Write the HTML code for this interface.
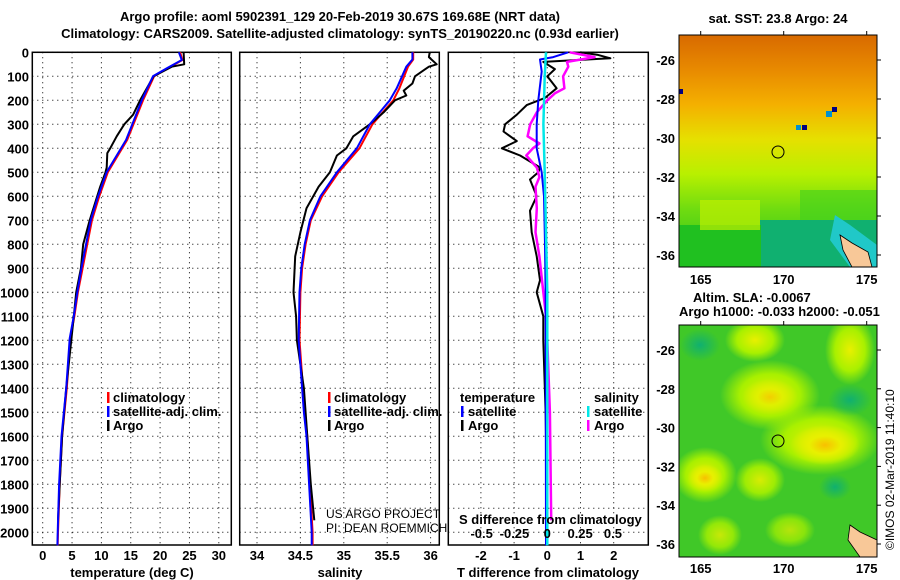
<!DOCTYPE html>
<html><head><meta charset="utf-8"><style>
body{margin:0;background:#fff;width:900px;height:580px;overflow:hidden}
svg{display:block}
text{font-family:"Liberation Sans",sans-serif;font-weight:bold;font-size:13px;fill:#000}
</style></head><body>
<svg id="c" width="900" height="580" viewBox="0 0 900 580">
<defs>
<linearGradient id="sstg" x1="0" y1="0" x2="0" y2="1">
<stop offset="0" stop-color="#d86a00"/><stop offset="0.15" stop-color="#e88a00"/><stop offset="0.3" stop-color="#f4b000"/>
<stop offset="0.45" stop-color="#e6e000"/><stop offset="0.6" stop-color="#b8f000"/><stop offset="0.75" stop-color="#70dc10"/><stop offset="1" stop-color="#20c020"/>
</linearGradient>
<radialGradient id="yb"><stop offset="0" stop-color="#f8c000"/><stop offset="0.45" stop-color="#e8f000"/><stop offset="1" stop-color="#e8f000" stop-opacity="0"/></radialGradient>
<radialGradient id="yl"><stop offset="0" stop-color="#e8f000"/><stop offset="0.6" stop-color="#a8f000"/><stop offset="1" stop-color="#a8f000" stop-opacity="0"/></radialGradient>
<radialGradient id="tb"><stop offset="0" stop-color="#10b070"/><stop offset="1" stop-color="#10b070" stop-opacity="0"/></radialGradient>
<clipPath id="m1"><rect x="679" y="35" width="198" height="232"/></clipPath>
<clipPath id="m2"><rect x="679" y="325" width="198" height="232"/></clipPath>
</defs>
<g id="titles">
<text x="340" y="21" text-anchor="middle">Argo profile: aoml 5902391_129 20-Feb-2019 30.67S 169.68E (NRT data)</text>
<text x="340" y="38" text-anchor="middle">Climatology: CARS2009. Satellite-adjusted climatology: synTS_20190220.nc (0.93d earlier)</text>
</g>
<g id="panels"></g>
<g id="maps">
<g clip-path="url(#m1)">
<rect x="679" y="35" width="198" height="232" fill="url(#sstg)"/>
<rect x="760" y="220" width="117" height="47" fill="#10b070"/>
<rect x="679" y="225" width="82" height="42" fill="#20c020"/>
<rect x="700" y="200" width="60" height="30" fill="#c0f000" opacity="0.7"/>
<rect x="800" y="190" width="77" height="30" fill="#40d020" opacity="0.6"/>
<polygon points="835,215 850,225 877,245 877,267 850,267 830,240" fill="#20c8c8"/>
<polygon points="840,235 852,243 868,252 872,267 852,267 843,250" fill="#f8c898" stroke="#000" stroke-width="0.8"/>
<rect x="832" y="107" width="5" height="5" fill="#000080"/><rect x="826" y="111" width="6" height="6" fill="#0090d0"/>
<rect x="802" y="125" width="5" height="5" fill="#000080"/><rect x="796" y="125" width="5" height="5" fill="#0090d0"/>
<rect x="679" y="89" width="4" height="5" fill="#000080"/>
</g>
<rect x="679" y="35" width="198" height="232" fill="none" stroke="#000"/>
<circle cx="778" cy="152" r="6" fill="none" stroke="#000"/>
<text x="778" y="23" text-anchor="middle">sat. SST: 23.8 Argo: 24</text>
<g clip-path="url(#m2)">
<rect x="679" y="325" width="198" height="232" fill="#40c828"/>
<ellipse cx="755" cy="340" rx="30" ry="22" fill="url(#yl)"/>
<ellipse cx="770" cy="395" rx="50" ry="35" fill="url(#yl)"/>
<ellipse cx="770" cy="397" rx="28" ry="18" fill="url(#yb)" opacity="0.7"/>
<ellipse cx="850" cy="350" rx="25" ry="35" fill="url(#yl)"/>
<ellipse cx="820" cy="440" rx="60" ry="35" fill="url(#yl)"/>
<ellipse cx="825" cy="445" rx="35" ry="20" fill="url(#yb)"/>
<ellipse cx="705" cy="475" rx="32" ry="28" fill="url(#yl)"/>
<ellipse cx="705" cy="478" rx="18" ry="14" fill="url(#yb)"/>
<ellipse cx="760" cy="480" rx="25" ry="22" fill="url(#yl)" opacity="0.9"/>
<ellipse cx="700" cy="345" rx="20" ry="16" fill="url(#tb)"/>
<ellipse cx="850" cy="400" rx="22" ry="16" fill="url(#tb)"/>
<ellipse cx="835" cy="487" rx="16" ry="13" fill="url(#tb)"/>
<ellipse cx="720" cy="535" rx="22" ry="20" fill="url(#yl)" opacity="0.8"/>
<ellipse cx="790" cy="530" rx="25" ry="18" fill="url(#yl)" opacity="0.7"/>
<polygon points="850,525 860,532 877,540 877,557 860,557 848,540" fill="#f8c898" stroke="#000" stroke-width="0.8"/>
</g>
<rect x="679" y="325" width="198" height="232" fill="none" stroke="#000"/>
<circle cx="778" cy="441" r="6" fill="none" stroke="#000"/>
<text x="693" y="302">Altim. SLA: -0.0067</text>
<text x="679" y="316">Argo h1000: -0.033 h2000: -0.051</text>
<text transform="translate(894,550) rotate(-90)" style="font-weight:normal;font-size:12px">©IMOS 02-Mar-2019 11:40:10</text>
</g>
</svg>
<script>
// ---- data ----
const tClimDepth=[0,32,67,99,199,365,499,602,699,799,900,1000,1099,1192,1400,1600,1800,2000,2054];
const tClim=[23.4,23.8,21.3,19.0,17.1,14.4,11.1,9.6,8.4,7.6,6.8,6.0,5.4,4.7,4.1,3.3,2.9,2.6,2.55];
const tSat=[23.2,23.7,21.1,18.8,16.9,14.2,10.9,9.4,8.2,7.4,6.6,5.9,5.3,4.6,4.0,3.2,2.8,2.55,2.5];
const tArgoDepth=[0,50,60,100,200,260,300,350,400,420,480,500,560,700,800,900,1000,1100,1400,1600,1800,1950];
const tArgo=[24.0,24.1,22.0,18.9,16.6,15.4,13.9,12.6,11.5,11.0,10.9,10.7,9.8,8.0,6.9,6.5,5.7,5.3,4.0,3.3,2.9,2.6];
const sClimDepth=[0,30,60,150,200,300,400,500,600,700,800,900,1000,1200,1400,1500,1600,1800,2000,2054];
const sClim=[35.80,35.80,35.74,35.64,35.57,35.33,35.18,34.94,34.75,34.62,34.56,34.52,34.50,34.49,34.53,34.55,34.58,34.61,34.64,34.64];
const sSat=[35.79,35.79,35.72,35.61,35.53,35.30,35.15,34.92,34.73,34.61,34.55,34.51,34.49,34.48,34.52,34.54,34.57,34.60,34.63,34.63];
const sArgoDepth=[0,20,50,60,70,100,130,160,180,200,250,300,350,400,430,500,560,650,750,850,1000,1100,1200,1400,1600,1800,1950];
const sArgo=[35.99,35.98,36.07,35.98,35.94,35.82,35.79,35.69,35.72,35.59,35.46,35.30,35.11,35.03,34.92,34.84,34.71,34.57,34.50,34.44,34.42,34.45,34.46,34.54,34.58,34.62,34.66];
const dTArgoDepth=[0,10,25,40,70,100,150,190,220,260,300,330,370,400,430,480,500,530,600,660,750,850,950,1000,1100,1200,1500,1950];
const dTArgo=[0.99,1.5,1.9,-0.12,0.23,0,0.28,-0.07,-0.62,-0.92,-1.27,-1.32,-0.92,-1.37,-0.82,-0.22,-0.27,-0.52,-0.32,-0.52,-0.47,-0.32,-0.22,-0.32,-0.12,-0.12,-0.05,0];
const dTSatDepth=[0,20,30,80,200,300,400,500,600,800,1000,2054];
const dTSat=[0.63,0.18,-0.22,-0.17,-0.27,-0.32,-0.32,-0.17,-0.1,-0.07,-0.05,-0.04];
const dSSatDepth=[0,100,300,500,1000,2054];
const dSSat=[-0.01,-0.02,-0.03,-0.02,0,0];
const dSArgoDepth=[0,20,40,60,100,150,170,200,250,300,350,380,400,430,480,520,560,650,750,850,950,1100,1200,1500,1950];
const dSArgo=[0.17,0.36,0.15,0.16,0.12,0.13,0.06,0,-0.08,-0.13,-0.15,-0.06,-0.11,-0.16,-0.08,-0.06,-0.09,-0.08,-0.09,-0.06,-0.04,-0.01,0,0.02,0.03];
const depthTicks=[0,100,200,300,400,500,600,700,800,900,1000,1100,1200,1300,1400,1500,1600,1700,1800,1900,2000];
const tTicks=[0,5,10,15,20,25,30];
const sTicks=[34,34.5,35,35.5,36];
const sTickLabels=["34","34.5","35","35.5","36"];
const dTTicks=[-2,-1,0,1,2];
const dSTicks=[-0.5,-0.25,0,0.25,0.5];
const dSTickLabels=["-0.5","-0.25","0","0.25","0.5"];
const latTicks=[-26,-28,-30,-32,-34,-36];
const lonTicks=[165,170,175];

// ---- scales ----
const NS="http://www.w3.org/2000/svg";
const y=d=>52.3+d*0.24;
const xT=t=>42.7+t*5.87;
const xS=s=>257+(s-34)*86.8;
const xDT=v=>547.3+v*33.2;
const xDS=v=>547.3+v*131.3;
const latY1=l=>60+(-26-l)*19.5;
const latY2=l=>350+(-26-l)*19.4;
const lonX=l=>700.7+(l-165)*16.6;
const root=document.getElementById('panels');
function mk(tag,at,parent){const e=document.createElementNS(NS,tag);for(const k in at)e.setAttribute(k,at[k]);(parent||root).appendChild(e);return e;}
function line(xf,vals,depths,color,w,name){
  const p=mk('polyline',{points:vals.map((v,i)=>xf(v).toFixed(1)+','+y(depths[i]).toFixed(1)).join(' '),fill:'none',stroke:color,'stroke-width':w,'stroke-linejoin':'round'});
  
  
}
function txt(x,yy,s,name,anchor,style){const t=mk('text',{x:x,y:yy});if(anchor)t.setAttribute('text-anchor',anchor);if(style)t.setAttribute('style',style);t.textContent=s;
  
  
  return t;}
function frame(x0,x1,name){
  const r=mk('rect',{x:x0,y:52.3,width:x1-x0,height:492.7,fill:'none',stroke:'#000','stroke-width':1.5});
  
  
  depthTicks.forEach(d=>mk('line',{x1:x0,x2:x1,y1:y(d),y2:y(d),stroke:'#000','stroke-dasharray':'1,4'}));
}
function vgrid(xs,name){xs.forEach(x=>mk('line',{x1:x,x2:x,y1:52.3,y2:545,stroke:'#000','stroke-dasharray':'1,4'}));}
function legMark(x,yy,c){mk('rect',{x:x,y:yy-10,width:2.5,height:11,fill:c});}

// panel 1
frame(32.3,231.3,'temperature-panel');
vgrid(tTicks.map(xT));
depthTicks.forEach(d=>txt(29,y(d)+5,String(d),'depth-tick-label','end'));
tTicks.forEach(t=>txt(xT(t),560,String(t),'temperature-tick-label','middle'));
txt(132,577,'temperature (deg C)','temperature-axis-title','middle');
line(xT,tClim,tClimDepth,'#ff0000',2,'temperature-climatology-line');
line(xT,tArgo,tArgoDepth,'#000',2,'temperature-argo-line');
line(xT,tSat,tClimDepth,'#0000ff',2,'temperature-satellite-line');
legMark(107,402,'#f00');txt(113,402,'climatology','legend-climatology');
legMark(107,416,'#00f');txt(113,416,'satellite-adj. clim.','legend-satellite');
legMark(107,430,'#000');txt(113,430,'Argo','legend-argo');

// panel 2
frame(239.7,439.3,'salinity-panel');
vgrid(sTicks.map(xS));
sTicks.forEach((s,i)=>txt(xS(s),560,sTickLabels[i],'salinity-tick-label','middle'));
txt(340,577,'salinity','salinity-axis-title','middle');
line(xS,sClim,sClimDepth,'#ff0000',2,'salinity-climatology-line');
line(xS,sArgo,sArgoDepth,'#000',2,'salinity-argo-line');
line(xS,sSat,sClimDepth,'#0000ff',2,'salinity-satellite-line');
legMark(328,402,'#f00');txt(334,402,'climatology','legend-climatology');
legMark(328,416,'#00f');txt(334,416,'satellite-adj. clim.','legend-satellite');
legMark(328,430,'#000');txt(334,430,'Argo','legend-argo');
txt(326,518,'US ARGO PROJECT','credit-project','start','font-weight:normal;font-size:12px');
txt(326,532,'PI: DEAN ROEMMICH','credit-pi','start','font-weight:normal;font-size:12px');

// panel 3
frame(448.3,648.3,'difference-panel');
vgrid(dTTicks.map(xDT));
dTTicks.forEach(t=>txt(xDT(t),560,String(t),'t-diff-tick-label','middle'));
txt(548,577,'T difference from climatology','t-diff-axis-title','middle');
line(xDT,dTArgo,dTArgoDepth,'#000',2,'t-diff-argo-line');
line(xDS,dSArgo,dSArgoDepth,'#ff00ff',2.5,'s-diff-argo-line');
line(xDT,dTSat,dTSatDepth,'#0000ff',2,'t-diff-satellite-line');
line(xDS,dSSat,dSSatDepth,'#00e8e8',2.5,'s-diff-satellite-line');
txt(460,402,'temperature','legend-temperature-heading');
legMark(461,416,'#00f');txt(468,416,'satellite','legend-t-satellite');
legMark(461,430,'#000');txt(468,430,'Argo','legend-t-argo');
txt(594,402,'salinity','legend-salinity-heading');
legMark(587,416,'#00e8e8');txt(594,416,'satellite','legend-s-satellite');
legMark(587,430,'#f0f');txt(594,430,'Argo','legend-s-argo');
txt(459,524,'S difference from climatology','s-diff-axis-title');
dSTicks.forEach((s,i)=>txt(xDS(s),538,dSTickLabels[i],'s-diff-tick-label','middle'));

// map ticks (lat labels on left of maps)
latTicks.forEach(l=>{
  txt(675,latY1(l)+5,String(l),'sst-lat-label','end');
  txt(675,latY2(l)+5,String(l),'sla-lat-label','end');
  mk('line',{x1:877,x2:881,y1:latY1(l),y2:latY1(l),stroke:'#000'});
  mk('line',{x1:877,x2:881,y1:latY2(l),y2:latY2(l),stroke:'#000'});
});
lonTicks.forEach(l=>{
  txt(lonX(l),284,String(l),'sst-lon-label','middle');
  txt(lonX(l),573,String(l),'sla-lon-label','middle');
  mk('line',{x1:lonX(l),x2:lonX(l),y1:31,y2:35,stroke:'#000'});
  mk('line',{x1:lonX(l),x2:lonX(l),y1:321,y2:325,stroke:'#000'});
});
</script>
</body></html>
